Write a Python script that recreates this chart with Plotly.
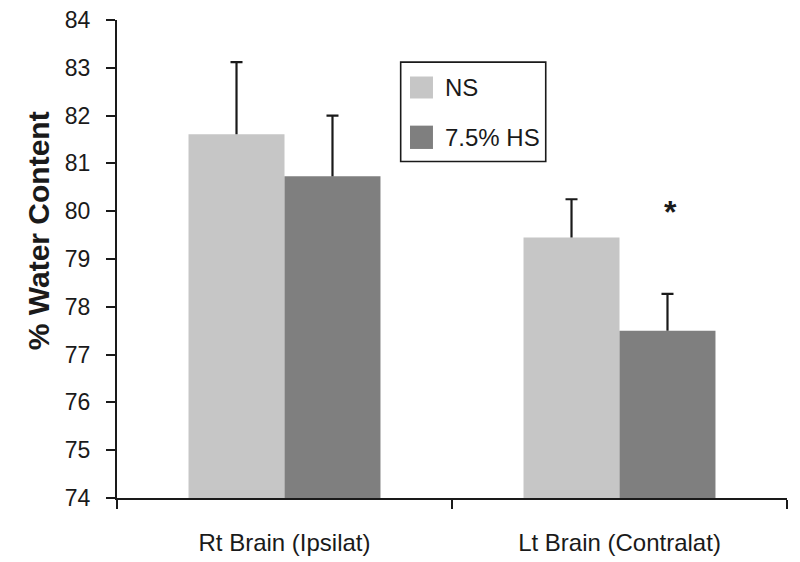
import plotly.graph_objects as go

categories = ["Rt Brain (Ipsilat)", "Lt Brain (Contralat)"]
ns_values = [81.61, 79.45]
ns_errors = [1.51, 0.80]
hs_values = [80.73, 77.50]
hs_errors = [1.27, 0.77]
series_names = ["NS", "7.5% HS"]
y_ticks = list(range(74, 85))
star_category = "Lt Brain (Contralat)"
star_value = 80.06

NS_COLOR = "#c6c6c6"
HS_COLOR = "#7f7f7f"
INK = "#1a1a1a"
FONT = "Liberation Sans, Arial, sans-serif"

fig = go.Figure()
for name, vals, errs, col in [
    (series_names[0], ns_values, ns_errors, NS_COLOR),
    (series_names[1], hs_values, hs_errors, HS_COLOR),
]:
    # bars with the error stem (no caps)
    fig.add_trace(go.Bar(
        x=categories, y=vals, name=name, offsetgroup=name,
        marker=dict(color=col, line=dict(width=0)),
        error_y=dict(type="data", array=errs, arrayminus=[0] * len(errs), symmetric=False,
                     color=INK, thickness=2.2, width=0),
        showlegend=False,
    ))
    # transparent helper bars only to draw the cap at the top of each error bar
    tops = [v + e for v, e in zip(vals, errs)]
    fig.add_trace(go.Bar(
        x=categories, y=tops, offsetgroup=name, hoverinfo="skip",
        marker=dict(color="rgba(0,0,0,0)", line=dict(width=0)),
        error_y=dict(type="data", array=[0] * len(errs), arrayminus=[0] * len(errs), symmetric=False,
                     color=INK, thickness=2.2, width=6),
        showlegend=False,
    ))

# significance star above HS bar of the Lt brain group
fig.add_annotation(x=star_category, y=star_value, xref="x", yref="y", text="<b>*</b>",
                   showarrow=False, xshift=51, yshift=-4, font=dict(size=32, color=INK, family=FONT))

# y-axis title
fig.add_annotation(x=-0.118, y=0.56, xref="paper", yref="paper", text="<b>% Water Content</b>",
                   textangle=-90, showarrow=False, xanchor="center", yanchor="middle",
                   font=dict(size=30, color=INK, family=FONT))

# legend box (manual)
fig.add_shape(type="rect", xref="paper", yref="paper", x0=0.4234, x1=0.6399, y0=0.7041, y1=0.9118,
              line=dict(color=INK, width=1.6), fillcolor="white")
for (y0, y1), col, name in [((0.8358, 0.8818), NS_COLOR, series_names[0]),
                            ((0.7302, 0.7790), HS_COLOR, series_names[1])]:
    fig.add_shape(type="rect", xref="paper", yref="paper", x0=0.4373, x1=0.4716, y0=y0, y1=y1,
                  line=dict(width=0), fillcolor=col)
    fig.add_annotation(x=0.486, y=(y0 + y1) / 2, xref="paper", yref="paper", text=name,
                       xanchor="left", yanchor="middle", showarrow=False,
                       font=dict(size=24, color=INK, family=FONT))

fig.update_layout(
    width=800, height=562,
    margin=dict(l=117, r=13, t=19.5, b=64.3, autoexpand=False),
    paper_bgcolor="white", plot_bgcolor="white",
    barmode="group", bargap=0.427, bargroupgap=0,
    font=dict(family=FONT, color=INK),
    xaxis=dict(showline=True, linecolor=INK, linewidth=2, ticks="outside", tickson="boundaries",
               ticklen=9, tickwidth=2, tickcolor=INK, tickfont=dict(size=24),
               ticklabelstandoff=22, showgrid=False, zeroline=False, automargin=False),
    yaxis=dict(range=[74, 84], tickvals=y_ticks, showline=True, linecolor=INK, linewidth=2,
               ticks="outside", ticklen=9, tickwidth=2, tickcolor=INK, tickfont=dict(size=23),
               ticklabelstandoff=11, showgrid=False, zeroline=False, automargin=False),
)

fig.write_html("out.html", config={"displayModeBar": False},
               post_script="document.body.style.margin='0';")
